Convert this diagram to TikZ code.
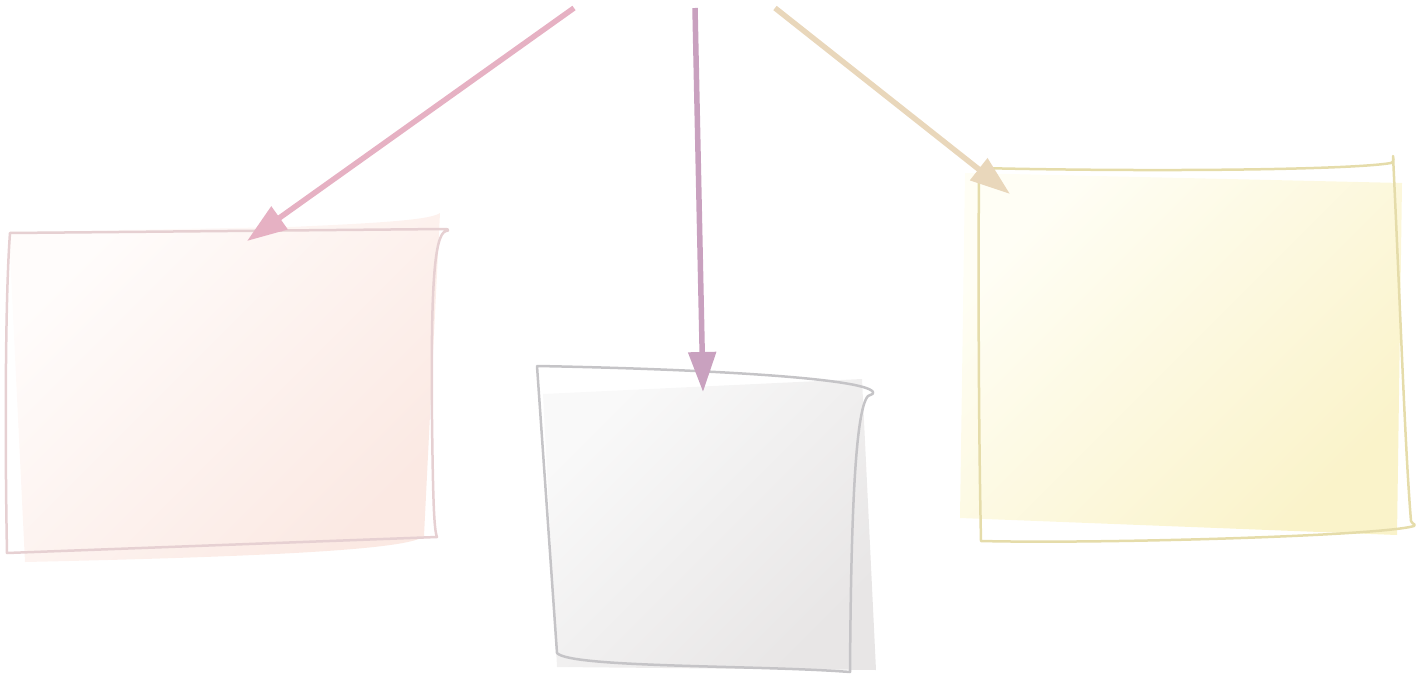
\documentclass[tikz,border=0pt]{standalone}
\usetikzlibrary{arrows.meta}
\definecolor{pinkA}{HTML}{FFFCFB}
\definecolor{pinkB}{HTML}{FBE9E3}
\definecolor{grayA}{HTML}{F9F9F9}
\definecolor{grayB}{HTML}{E8E6E6}
\definecolor{yelA}{HTML}{FFFEF5}
\definecolor{yelB}{HTML}{FAF3CA}
\definecolor{pinkS}{HTML}{E6D0D2}
\definecolor{grayS}{HTML}{C5C4C7}
\definecolor{yelS}{HTML}{E5DCAA}
\definecolor{arPink}{HTML}{E6B1C3}
\definecolor{arPurple}{HTML}{C9A1BF}
\definecolor{arTan}{HTML}{E9D7BB}
\tikzset{
  sketch/.style={line width=2.5pt, line cap=round, line join=round},
  paperfill/.style 2 args={top color=#1, bottom color=#2, shading angle=45, draw=none},
  bigarrow/.style={line width=5.5pt, -{Triangle[length=40pt,width=27pt]}},
}
\begin{document}
\begin{tikzpicture}[x=1pt,y=-1pt]
\useasboundingbox (0,0) rectangle (1421,674);

% ---------- left box (pink) ----------
\shade[paperfill={pinkA}{pinkB}]
  (9,232) -- (290,227) .. controls (380,223) and (430,220) .. (440,213)
  -- (424,536) .. controls (412,548) and (300,556) .. (25,562) -- cycle;
\draw[sketch, pinkS]
  (10,233) -- (445,229) .. controls (449,229) and (449,231) .. (446,231)
  .. controls (433,234) and (431,300) .. (432,420)
  .. controls (433,500) and (434,530) .. (437,537)
  -- (7,553) .. controls (5,450) and (5,300) .. (10,233);
\coordinate (leftTop) at (247,241);

% ---------- middle box (gray) ----------
\shade[paperfill={grayA}{grayB}]
  (543,394) -- (862,379) -- (876,670) -- (557,667) -- cycle;
\draw[sketch, grayS]
  (537,366) .. controls (700,369) and (865,378) .. (873,392)
  .. controls (874,395) and (870,394) .. (868,396)
  .. controls (855,410) and (851,520) .. (850,672)
  .. controls (760,665) and (570,668) .. (557,653)
  -- (537,366);
\coordinate (midTop) at (703,392);

% ---------- right box (yellow) ----------
\shade[paperfill={yelA}{yelB}]
  (965,173) -- (1402,183) -- (1397,535) -- (960,518) -- cycle;
\draw[sketch, yelS]
  (979,168) .. controls (1150,172) and (1350,170) .. (1391,163)
  .. controls (1394,162) and (1394,158) .. (1393,156)
  .. controls (1400,300) and (1405,450) .. (1411,521)
  .. controls (1413,525) and (1416,524) .. (1414,526)
  .. controls (1380,536) and (1100,544) .. (981,541)
  .. controls (979,450) and (978,300) .. (979,168);
\coordinate (rightTop) at (1010,194);

% ---------- arrows ----------
\coordinate (srcPink) at (574,8);
\coordinate (srcPurple) at (695,8);
\coordinate (srcTan) at (775,8);
\draw[bigarrow, arPink] (srcPink) -- (leftTop);
\draw[bigarrow, arPurple] (srcPurple) -- (midTop);
\draw[bigarrow, arTan] (srcTan) -- (rightTop);
\end{tikzpicture}
\end{document}
